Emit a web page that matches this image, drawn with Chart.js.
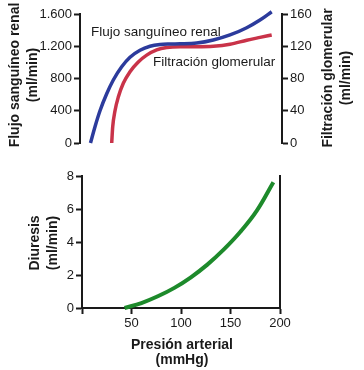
<!DOCTYPE html>
<html>
<head>
<meta charset="utf-8">
<script src="https://cdn.jsdelivr.net/npm/chart.js@4"></script>
<style>
  body { margin: 0; background: #fff; }
  #wrapTop { position: absolute; left: 0; top: 0; width: 364px; height: 160px; }
  #wrapBottom { position: absolute; left: 0; top: 160px; width: 364px; height: 210px; }
</style>
</head>
<body>
<div id="wrapTop"><canvas id="chartTop"></canvas></div>
<div id="wrapBottom"><canvas id="chartBottom"></canvas></div>
<script>
// Datos (presión arterial en mmHg)
const presionFlujo = [10.5, 15, 20, 26.7, 33.3, 41.7, 50, 60, 70, 80, 90, 100, 116.7, 133.3, 150, 166.7, 180, 191.7];
const flujoRenal = [0, 202, 400, 610, 781, 945, 1063, 1150, 1200, 1222, 1228, 1230, 1240, 1278, 1340, 1430, 1525, 1628];

const presionFiltracion = [31.7, 32.7, 35, 38.3, 43.3, 50, 58.3, 66.7, 76.7, 86.7, 100, 116.7, 133.3, 150, 166.7, 180, 191.7];
const filtracion = [0, 20, 40, 57, 74, 88.5, 100.5, 109, 115.5, 118.5, 119.5, 119.5, 120, 122.5, 127.5, 131, 134];

const presionDiuresis = [43, 60, 76.6, 93.3, 110, 126.6, 143.3, 160, 176.6, 193.3];
const diuresis = [0, 0.3, 0.71, 1.22, 1.86, 2.63, 3.55, 4.62, 5.9, 7.62];

const ticksFlujo = [0, 400, 800, 1200, 1600];
const ticksFiltracion = [0, 40, 80, 120, 160];
const ticksDiuresis = [0, 2, 4, 6, 8];
const ticksPresion = [0, 50, 100, 150, 200];

const tinta = "#1a1a1a";
const fuenteTicks = { family: "Liberation Sans", size: 13 };

function puntos(xs, ys) {
    return xs.map(function (x, i) { return { x: x, y: ys[i] }; });
}

function miles(v) {
    return String(v).replace(/\B(?=(\d{3})+(?!\d))/g, ".");
}

// Dibuja textos sueltos (títulos de ejes y rótulos de las curvas)
function textosPlugin(textos) {
    return {
        id: "textos",
        afterDraw: function (chart) {
            const ctx = chart.ctx;
            textos.forEach(function (t) {
                ctx.save();
                ctx.fillStyle = tinta;
                ctx.font = (t.bold ? "bold " : "") + t.size + "px 'Liberation Sans'";
                ctx.textAlign = t.align || "center";
                ctx.textBaseline = "middle";
                ctx.translate(t.x, t.y);
                if (t.rot) ctx.rotate(t.rot);
                ctx.fillText(t.text, 0, 0);
                ctx.restore();
            });
        }
    };
}

function ejeY(pos, ancho, valores, extra) {
    return Object.assign({
        type: "linear",
        position: pos,
        min: valores[0],
        max: valores[valores.length - 1],
        afterFit: function (scale) { scale.width = ancho; },
        afterBuildTicks: function (scale) {
            scale.ticks = valores.map(function (v) { return { value: v }; });
        },
        border: { display: true, color: tinta, width: 2 },
        grid: { drawOnChartArea: false, drawTicks: true, tickLength: 6, tickWidth: 2, tickColor: tinta },
        ticks: { color: tinta, font: fuenteTicks, padding: 2 }
    }, extra || {});
}

const ctxTop = document.getElementById("chartTop").getContext("2d");
new Chart(ctxTop, {
    type: "line",
    data: {
        datasets: [{
            label: "Flujo sanguíneo renal",
            data: puntos(presionFlujo, flujoRenal),
            borderColor: "#2c3b9c",
            borderWidth: 3.5,
            pointRadius: 0,
            cubicInterpolationMode: "monotone",
            clip: false,
            yAxisID: "y"
        }, {
            label: "Filtración glomerular",
            data: puntos(presionFiltracion, filtracion),
            borderColor: "#c93349",
            borderWidth: 3.5,
            pointRadius: 0,
            cubicInterpolationMode: "monotone",
            clip: false,
            yAxisID: "y2"
        }]
    },
    options: {
        responsive: true,
        maintainAspectRatio: false,
        animation: false,
        layout: { padding: { top: 14, bottom: 17, left: 0, right: 0 } },
        plugins: { legend: { display: false }, tooltip: { enabled: false } },
        scales: {
            x: { type: "linear", min: 0, max: 202, display: false },
            y: ejeY("left", 80, ticksFlujo, {
                ticks: { color: tinta, font: fuenteTicks, padding: 2, callback: function (v) { return miles(v); } }
            }),
            y2: ejeY("right", 82, ticksFiltracion)
        }
    },
    plugins: [textosPlugin([
        { text: "Flujo sanguíneo renal", x: 15, y: 75, rot: -Math.PI / 2, bold: true, size: 14 },
        { text: "(ml/min)", x: 33, y: 75, rot: -Math.PI / 2, bold: true, size: 14 },
        { text: "Filtración glomerular", x: 328, y: 78, rot: -Math.PI / 2, bold: true, size: 14 },
        { text: "(ml/min)", x: 346, y: 78, rot: -Math.PI / 2, bold: true, size: 14 },
        { text: "Flujo sanguíneo renal", x: 91, y: 32, align: "left", size: 13.5 },
        { text: "Filtración glomerular", x: 153, y: 62, align: "left", size: 13.5 }
    ])]
});

const ctxBottom = document.getElementById("chartBottom").getContext("2d");
new Chart(ctxBottom, {
    type: "line",
    data: {
        datasets: [{
            label: "Diuresis",
            data: puntos(presionDiuresis, diuresis),
            borderColor: "#1d8a2b",
            borderWidth: 4,
            pointRadius: 0,
            tension: 0.4,
            clip: false
        }]
    },
    options: {
        responsive: true,
        maintainAspectRatio: false,
        animation: false,
        layout: { padding: { top: 16, bottom: 0, left: 0, right: 0 } },
        plugins: { legend: { display: false }, tooltip: { enabled: false } },
        scales: {
            x: {
                type: "linear",
                min: 0,
                max: 200,
                afterFit: function (scale) { scale.height = 62; },
                afterBuildTicks: function (scale) {
                    scale.ticks = ticksPresion.map(function (v) { return { value: v }; });
                },
                border: { display: true, color: tinta, width: 2 },
                grid: { drawOnChartArea: false, drawTicks: true, tickLength: 6, tickWidth: 2, tickColor: tinta },
                ticks: {
                    color: tinta, font: fuenteTicks, padding: 2, maxRotation: 0,
                    callback: function (v) { return v === 0 ? "" : v; }
                }
            },
            y: ejeY("left", 82, ticksDiuresis),
            y2: {
                type: "linear",
                position: "right",
                min: 0,
                max: 8,
                afterFit: function (scale) { scale.width = 84; },
                border: { display: true, color: tinta, width: 2 },
                grid: { display: false },
                ticks: { display: false }
            }
        }
    },
    plugins: [textosPlugin([
        { text: "Diuresis", x: 35, y: 83, rot: -Math.PI / 2, bold: true, size: 14 },
        { text: "(ml/min)", x: 53, y: 83, rot: -Math.PI / 2, bold: true, size: 14 },
        { text: "Presión arterial", x: 182, y: 185, bold: true, size: 14 },
        { text: "(mmHg)", x: 182, y: 200, bold: true, size: 14 }
    ])]
});
</script>
</body>
</html>
